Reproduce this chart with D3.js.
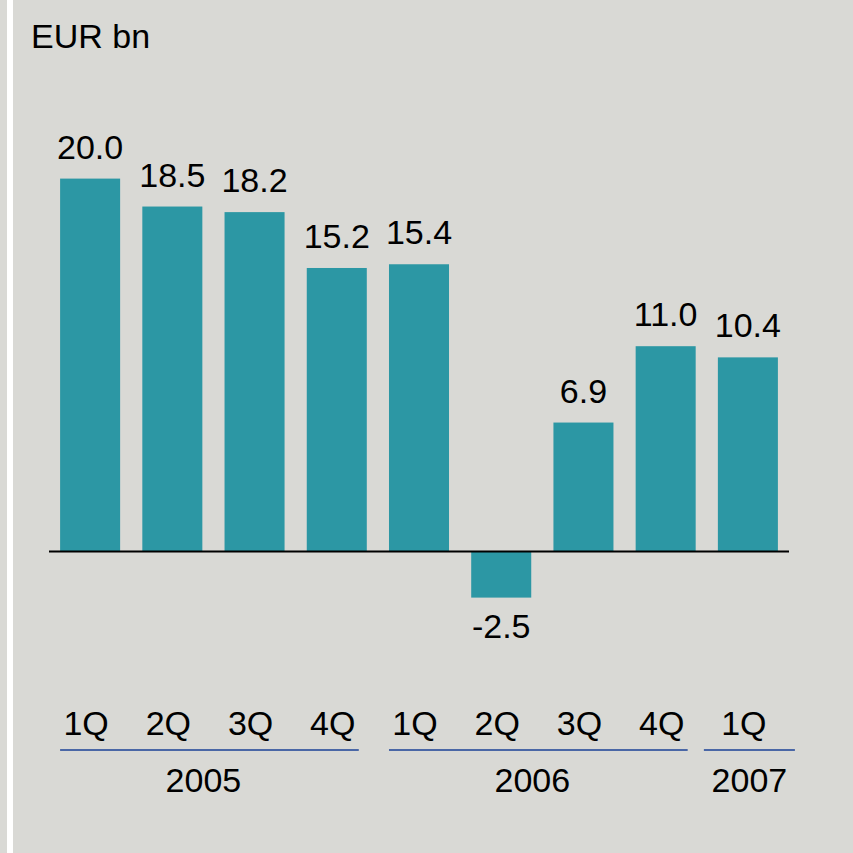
<!DOCTYPE html>
<html>
<head>
<meta charset="utf-8">
<script src="https://cdn.jsdelivr.net/npm/d3@7"></script>
<style>
  html, body { margin: 0; padding: 0; background: #d9d9d5; }
  svg { display: block; font-family: Arial, "Liberation Sans", sans-serif; }
</style>
</head>
<body>
<div id="chart"></div>
<script>
// data
var quarters = ['1Q', '2Q', '3Q', '4Q', '1Q', '2Q', '3Q', '4Q', '1Q'];
var years = ['2005', '2005', '2005', '2005', '2006', '2006', '2006', '2006', '2007'];
var values = [20.0, 18.5, 18.2, 15.2, 15.4, -2.5, 6.9, 11.0, 10.4];
var unit = 'EUR bn';

var width = 853, height = 853,
    fontsize = 34,
    barColor = '#2c97a4',
    lineColor = '#4a67a6';

var svg = d3.select('#chart').append('svg')
    .attr('width', width)
    .attr('height', height);

svg.append('rect')
    .attr('width', width)
    .attr('height', height)
    .attr('fill', '#d9d9d5');

// white stripe on the left edge
svg.append('rect')
    .attr('x', 7)
    .attr('width', 6)
    .attr('height', height)
    .attr('fill', '#ffffff');

var xScale = d3.scaleBand()
    .domain(d3.range(values.length))
    .range([49, 789])
    .paddingInner(0.27)
    .paddingOuter(0.135);

var yScale = d3.scaleLinear()
    .domain([-2.5, 20])
    .range([597.6, 178.6]);

var bw = xScale.bandwidth();

svg.append('text')
    .attr('x', 31)
    .attr('y', 48)
    .style('font-size', fontsize + 'px')
    .text(unit);

var bars = svg.append('g');

bars.selectAll('rect')
    .data(values)
    .enter()
    .append('rect')
    .attr('x', function(d, i) { return xScale(i); })
    .attr('y', function(d) { return yScale(Math.max(0, d)); })
    .attr('width', bw)
    .attr('height', function(d) { return Math.abs(yScale(d) - yScale(0)); })
    .attr('fill', barColor);

bars.selectAll('text')
    .data(values)
    .enter()
    .append('text')
    .attr('x', function(d, i) { return xScale(i) + bw / 2; })
    .attr('y', function(d) { return d >= 0 ? yScale(d) - 20 : yScale(d) + 40; })
    .attr('text-anchor', 'middle')
    .style('font-size', fontsize + 'px')
    .text(function(d) { return d.toFixed(1); });

// zero line
svg.append('line')
    .attr('x1', xScale.range()[0])
    .attr('x2', xScale.range()[1])
    .attr('y1', yScale(0) + 0.5)
    .attr('y2', yScale(0) + 0.5)
    .attr('stroke', '#000')
    .attr('stroke-width', 2);

// quarter labels
svg.append('g').selectAll('text')
    .data(quarters)
    .enter()
    .append('text')
    .attr('x', function(d, i) { return xScale(i) + bw / 2 - 4; })
    .attr('y', 735)
    .attr('text-anchor', 'middle')
    .style('font-size', fontsize + 'px')
    .text(function(d) { return d; });

// year groups
var groups = d3.groups(d3.range(years.length), function(i) { return years[i]; });

var yg = svg.append('g').selectAll('g')
    .data(groups)
    .enter()
    .append('g');

function lineStart(d) { return xScale(d[1][0]) + (d[1].length > 1 ? 0 : -14); }
function lineEnd(d) { return xScale(d[1][d[1].length - 1]) + bw + (d[1].length > 1 ? -8 : 17); }

yg.append('line')
    .attr('x1', lineStart)
    .attr('x2', lineEnd)
    .attr('y1', 750)
    .attr('y2', 750)
    .attr('stroke', lineColor)
    .attr('stroke-width', 2);

yg.append('text')
    .attr('x', function(d) { return (lineStart(d) + lineEnd(d)) / 2 - (d[1].length > 1 ? 6 : 0); })
    .attr('y', 792)
    .attr('text-anchor', 'middle')
    .style('font-size', fontsize + 'px')
    .text(function(d) { return d[0]; });
</script>
</body>
</html>
